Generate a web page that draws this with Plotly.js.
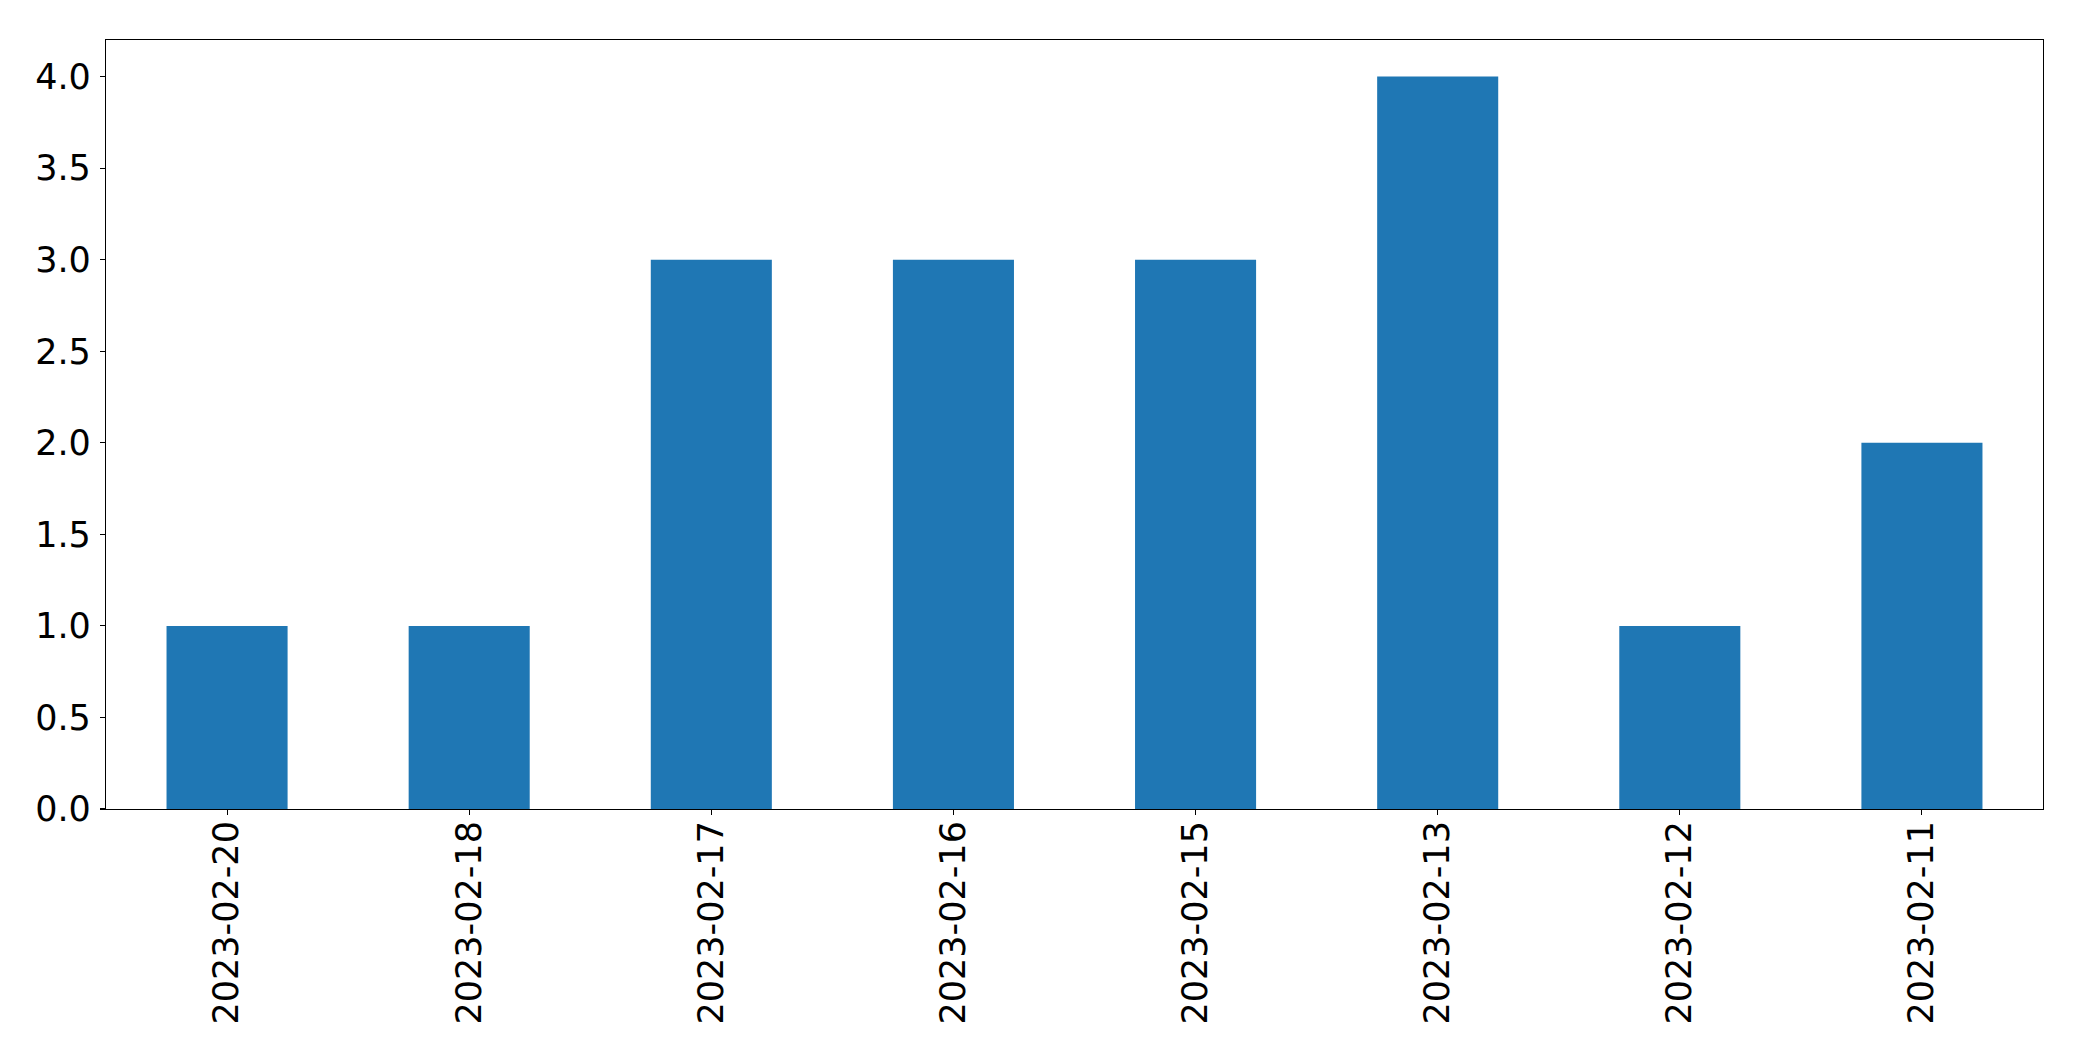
<!DOCTYPE html>
<html>
<head>
<meta charset="utf-8">
<script src="https://cdn.plot.ly/plotly-3.0.1.min.js"></script>
<style>html,body{margin:0;padding:0;background:#fff;}#chart{width:2082px;height:1061px;}</style>
</head>
<body>
<div id="chart"></div>
<script>
const categories = ["2023-02-20","2023-02-18","2023-02-17","2023-02-16","2023-02-15","2023-02-13","2023-02-12","2023-02-11"];
const counts = [1, 1, 3, 3, 3, 4, 1, 2];
const yTickVals = [0, 0.5, 1, 1.5, 2, 2.5, 3, 3.5, 4];
const yTickText = ["0.0","0.5","1.0","1.5","2.0","2.5","3.0","3.5","4.0"];

const font = {family: "DejaVu Sans", size: 35, color: "#000"};
Plotly.newPlot("chart", [{
  type: "bar",
  x: categories,
  y: counts,
  width: 0.5,
  marker: {color: "#1f77b4", line: {width: 0}},
  hoverinfo: "x+y"
}], {
  width: 2082, height: 1061,
  margin: {l: 105.5, r: 38.5, t: 39.5, b: 252, pad: 0},
  paper_bgcolor: "#fff", plot_bgcolor: "#fff",
  showlegend: false,
  font: font,
  xaxis: {
    type: "category",
    range: [-0.5, 7.5],
    tickangle: -90,
    ticks: "outside", ticklen: 5, tickwidth: 1.1, tickcolor: "#000",
    showline: true, linecolor: "#000", linewidth: 1.1, mirror: true,
    showgrid: false, zeroline: false,
    tickfont: font,
    ticklabelstandoff: -8
  },
  yaxis: {
    range: [0, 4.2],
    tickmode: "array", tickvals: yTickVals, ticktext: yTickText,
    ticks: "outside", ticklen: 5, tickwidth: 1.1, tickcolor: "#000",
    showline: true, linecolor: "#000", linewidth: 1.1, mirror: true,
    showgrid: false, zeroline: false,
    tickfont: font,
    ticklabelstandoff: 2
  }
}, {displayModeBar: false, staticPlot: true});
</script>
</body>
</html>
